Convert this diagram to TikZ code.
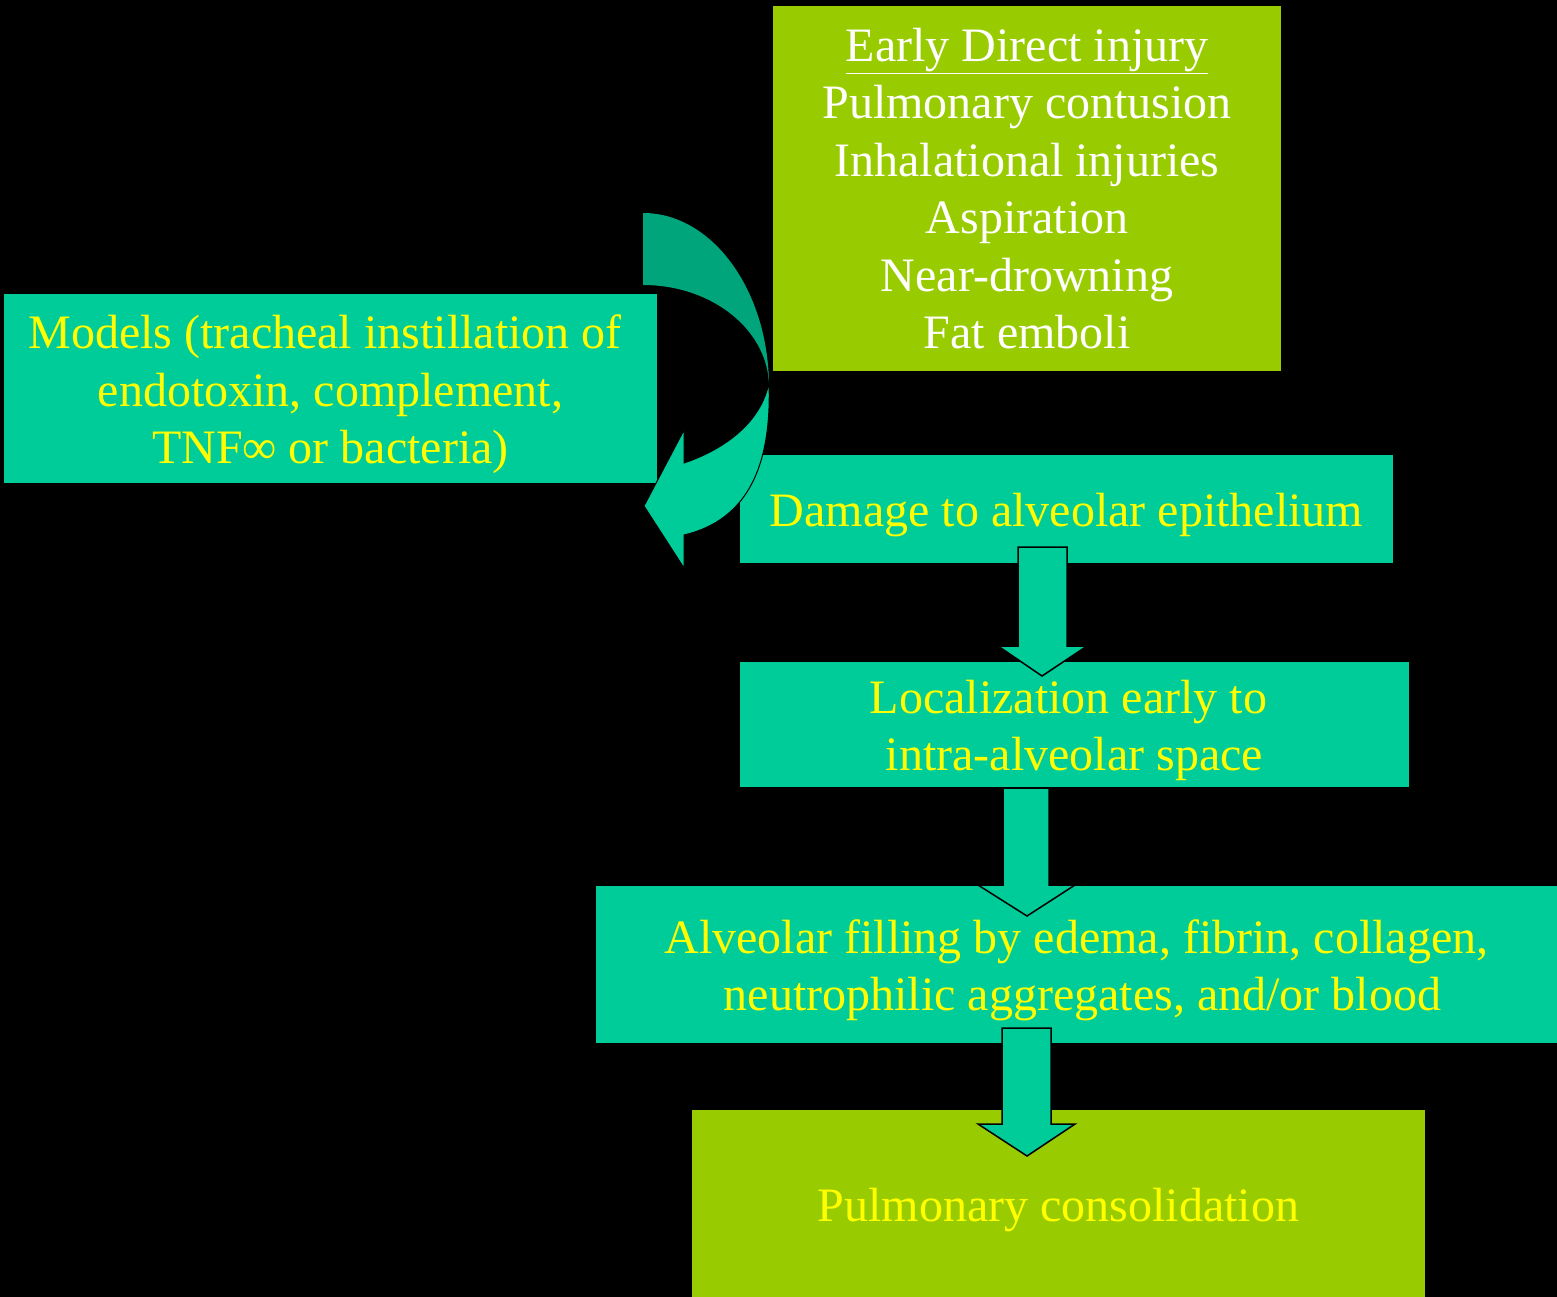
\documentclass[tikz,border=0pt]{standalone}
\usepackage{fontspec}
\setmainfont{Liberation Serif}
\definecolor{lgreen}{HTML}{99CC00}
\definecolor{teal}{HTML}{00CC99}
\definecolor{dteal}{HTML}{00A57C}
\definecolor{ytext}{HTML}{FFFF00}
\begin{document}
\begin{tikzpicture}[x=1pt,y=-1pt,
  box/.style={inner sep=0pt},
  label/.style={inner sep=0pt,align=center,font=\fontsize{48}{57.5}\selectfont},
  greenbox/.style={box,fill=lgreen},
  tealbox/.style={box,fill=teal},
  ylabel/.style={label,text=ytext},
  blockarrow/.style={fill=teal,draw=black,line width=1.5pt,line join=miter}]
\useasboundingbox (0,0) rectangle (1557,1297);
\fill[black] (0,0) rectangle (1557,1297);

\node[greenbox,minimum width=508pt,minimum height=365pt] (early) at (1027,188.5) {};
\node[label,text=white] (earlytxt) at (early.center)
  {\underline{Early Direct injury}\\Pulmonary contusion\\Inhalational injuries\\Aspiration\\Near-drowning\\Fat emboli};
\node[tealbox,minimum width=653pt,minimum height=189pt] (models) at (330.5,388.5) {};
\node[ylabel] (modelstxt) at ([yshift=-6pt]models.center)
  {Models (tracheal instillation of\hspace*{11pt}\\endotoxin, complement,\hspace*{11pt}\\TNF∞ or bacteria)};
\node[tealbox,minimum width=653pt,minimum height=108pt] (damage) at (1066.5,509) {};
\node[ylabel] (damagetxt) at ([yshift=-6pt]damage.center) {Damage to alveolar epithelium};
\node[tealbox,minimum width=669pt,minimum height=125pt] (local) at (1074.5,724.5) {};
\node[ylabel] (localtxt) at ([yshift=-6pt]local.center)
  {Localization early to\hspace*{12pt}\\intra-alveolar space};
\node[tealbox,minimum width=961pt,minimum height=157pt] (fill) at (1076.5,964.5) {};
\node[ylabel] (filltxt) at ([yshift=-6pt]fill.center)
  {Alveolar filling by edema, fibrin, collagen,\\\hspace*{12pt}neutrophilic aggregates, and/or blood};
\node[greenbox,minimum width=733pt,minimum height=187pt] (cons) at (1058.5,1203.5) {};
\node[ylabel] (constxt) at ([yshift=-7pt]cons.center) {Pulmonary consolidation};

% curved arrow (from early injury list into models)
\fill[dteal] (643,213) .. controls (712.6,213) and (769,291) .. (769,387)
  .. controls (769,330.6) and (712.6,285) .. (643,285) -- cycle;
\filldraw[fill=teal,draw=black,line width=1pt,line join=miter]
  (769,382) .. controls (772,465) and (748,520) .. (684,535)
  -- (684,568) -- (644,506) -- (684,430) -- (684,463)
  .. controls (728,448) and (762,420) .. (769,382) -- cycle;

% block arrows
\draw[blockarrow] (1018,547) -- (1067,547) -- (1067,646) -- (1087,646) -- (1042,676)
  -- (998,646) -- (1018,646) -- cycle;
\draw[blockarrow] (1003,788) -- (1049,788) -- (1049,885) -- (1075,885) -- (1027,916)
  -- (978,885) -- (1003,885) -- cycle;
\draw[blockarrow] (1002,1028) -- (1051,1028) -- (1051,1124) -- (1075,1124) -- (1027,1156)
  -- (978,1124) -- (1002,1124) -- cycle;
\end{tikzpicture}
\end{document}
